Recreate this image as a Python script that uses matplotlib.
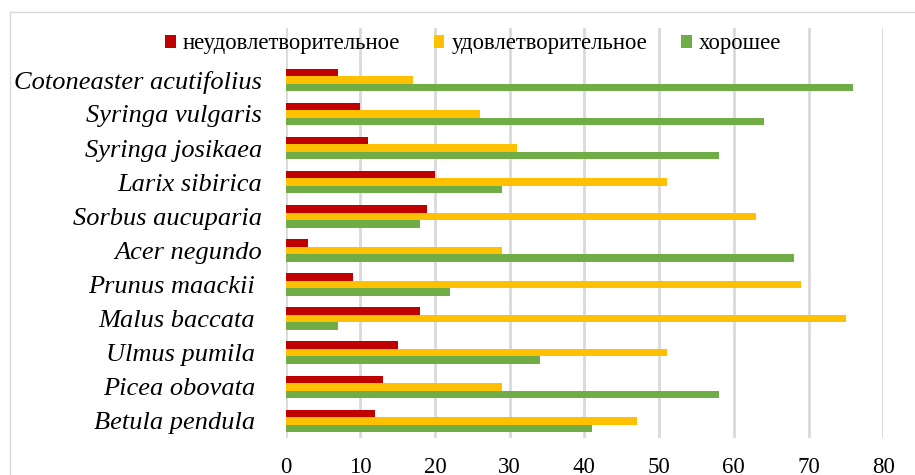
import matplotlib
matplotlib.use('Agg')
import matplotlib.pyplot as plt
from matplotlib.lines import Line2D
import numpy as np

plt.rcParams['font.family'] = ['Liberation Serif', 'DejaVu Serif']

# Данные (снизу вверх)
vidy = ['Betula pendula ', 'Picea obovata ', 'Ulmus pumila ', 'Malus baccata ',
        'Prunus maackii ', 'Acer negundo', 'Sorbus aucuparia', 'Larix sibirica',
        'Syringa josikaea', 'Syringa vulgaris', 'Cotoneaster acutifolius']
neudovl = [12, 13, 15, 18, 9, 3, 19, 20, 11, 10, 7]
udovl = [47, 29, 51, 75, 69, 29, 63, 51, 31, 26, 17]
horoshee = [41, 58, 34, 7, 22, 68, 18, 29, 58, 64, 76]

nazvaniya = ['неудовлетворительное', 'удовлетворительное', 'хорошее']
cveta = ['#C00000', '#FFC000', '#70AD47']

fig = plt.figure(figsize=(9.15, 4.75), dpi=100)
ax = fig.add_axes([285.5 / 915, 1 - 438 / 475, (883.3 - 285.5) / 915, (438 - 28) / 475])

y = np.arange(len(vidy))
h = 0.22
ax.barh(y + h, neudovl, height=h, color=cveta[0], label=nazvaniya[0], zorder=3)
ax.barh(y, udovl, height=h, color=cveta[1], label=nazvaniya[1], zorder=3)
ax.barh(y - h, horoshee, height=h, color=cveta[2], label=nazvaniya[2], zorder=3)

ax.set_xlim(0, 80)
ax.set_ylim(-0.5, 11.52)
ax.set_xticks(range(0, 81, 10))
ax.set_yticks(y)
ax.set_yticklabels(vidy, fontstyle='italic', fontsize=19)
ax.tick_params(axis='x', labelsize=16.5, length=0, pad=14)
ax.tick_params(axis='y', length=0, pad=17)
ax.grid(axis='x', color='#d9d9d9', linewidth=2.0, zorder=0)
for s in ax.spines.values():
    s.set_visible(False)

fig.legend(loc='center', bbox_to_anchor=(473 / 915, 1 - 44 / 475), ncol=3,
           frameon=False, fontsize=16.4, handlelength=0.46, handleheight=0.46,
           handletextpad=0.3, columnspacing=1.5, borderpad=0)

# рамка области диаграммы
fig.add_artist(Line2D([10 / 915, 1], [1 - 12 / 475, 1 - 12 / 475], color='#d9d9d9', lw=1))
fig.add_artist(Line2D([10 / 915, 10 / 915], [0, 1 - 12 / 475], color='#d9d9d9', lw=1))

plt.savefig('out.png', dpi=100)
plt.close()
